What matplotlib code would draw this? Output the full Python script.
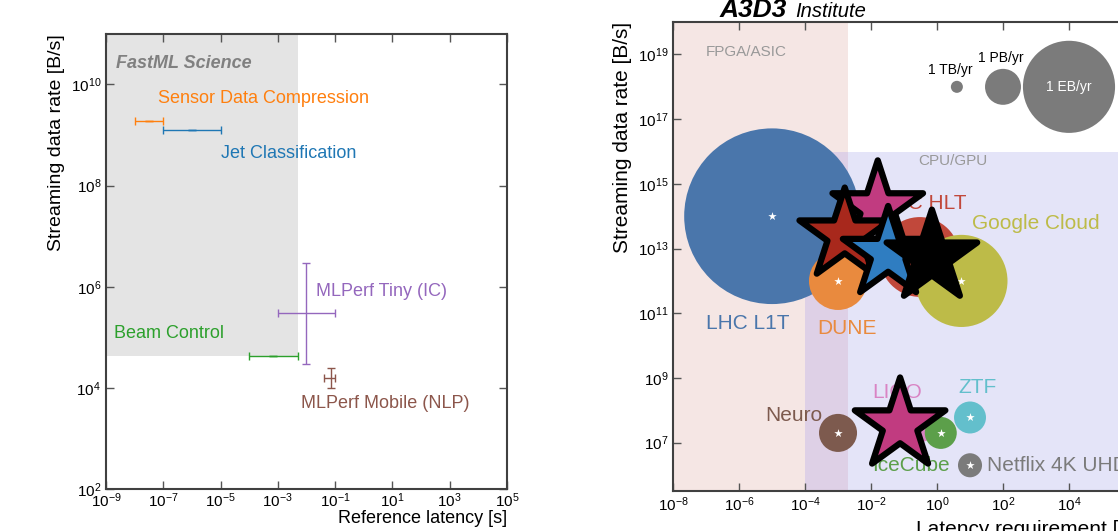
import matplotlib.pyplot as plt
import numpy as np

plt.rcParams['font.family'] = ['Liberation Sans', 'DejaVu Sans']
plt.rcParams['mathtext.fontset'] = 'custom'
plt.rcParams['mathtext.rm'] = 'Liberation Sans'
plt.rcParams['mathtext.it'] = 'Liberation Sans:italic'
plt.rcParams['mathtext.bf'] = 'Liberation Sans:bold'

# ---- left panel: FastML Science benchmarks ----
tasks = ['Sensor Data Compression', 'Jet Classification', 'Beam Control',
         'MLPerf Tiny (IC)', 'MLPerf Mobile (NLP)']
task_colors = ['#ff7f0e', '#1f77b4', '#2ca02c', '#9467bd', '#8c564b']
lat_center = [3.2e-8, 1e-6, 7e-4, 1e-2, 7e-2]
lat_lo = [1e-8, 1e-7, 1e-4, 1e-3, 4e-2]
lat_hi = [1e-7, 1e-5, 5e-3, 1e-1, 1e-1]
rate_center = [1.9e9, 1.26e9, 4.3e4, 3e5, 1.6e4]
rate_lo = [1.9e9, 1.26e9, 4.3e4, 3e4, 1e4]
rate_hi = [1.9e9, 1.26e9, 4.3e4, 3e6, 2.5e4]
# where each label sits (left edge, vertical centre)
task_label_x = [6.6e-8, 1e-5, 1.9e-9, 2.1e-2, 6.3e-3]
task_label_y = [5.2e9, 4.3e8, 1.2e5, 8e5, 5e3]

# fastml region
fastml_lat = [1e-9, 5e-3]
fastml_rate = [4.3e4, 1e11]

# ---- right panel: A3D3 Institute bubbles ----
experiments = ['LHC L1T', 'LHC HLT', 'Google Cloud', 'DUNE', 'Neuro',
               'LIGO', 'IceCube', 'ZTF', 'Netflix 4K UHD']
exp_latency = [1e-5, 0.3, 5.5, 1e-3, 1e-3, 0.3, 1.3, 10, 10]
exp_rate = [1e14, 5.5e12, 1e12, 1e12, 2e7, 3.5e7, 2e7, 6e7, 2e6]
exp_volume = [16000, 3300, 4400, 1750, 750, 600, 530, 530, 300]
exp_colors = ['#4a76ab', '#c1483b', '#bdbb48', '#e98a3e', '#7d5a4e',
              '#d984c4', '#5c9f4a', '#63bfcc', '#7b7b7b']
exp_label_x = [1e-7, 8, 11.5, 2.3e-4, 3.3e-4, 1.07e-2, 1.07e-2, 4.4, 33]
exp_label_y = [5e10, 2.5e14, 6e13, 3.5e10, 6.7e7, 3.5e8, 2e6, 4.9e8, 2e6]
exp_label_ha = ['left', 'right', 'left', 'left', 'right', 'left', 'left', 'left', 'left']

# fastml benchmarks overplotted as stars
star_latency = [1.6e-2, 1.6e-3, 3.3e-2, 0.7, 7.6e-2]
star_rate = [1.8e14, 2.6e13, 7e12, 5.4e12, 3.5e7]
star_colors = ['#c13b80', '#a8281c', '#2f7dc1', 'black', '#c13b80']

# size key
ref_volumes = ['1 TB/yr', '1 PB/yr', '1 EB/yr']
ref_latency = [4, 1e2, 1e4]
ref_rate = [1e18, 1e18, 1e18]
ref_size = [75, 670, 4400]

fpga_lat = [1e-8, 2e-3]
cpu_lat = [1e-4, 1e6]
cpu_rate_top = 1e16


fig = plt.figure(figsize=(11.18, 5.31), dpi=100)

# =================== left ===================
ax = fig.add_axes([0.0948, 0.0791, 0.3587, 0.857])
ax.set_xscale('log')
ax.set_yscale('log')
ax.set_xlim(1e-9, 1e5)
ax.set_ylim(1e2, 1e11)

ax.fill_between(fastml_lat, fastml_rate[0], fastml_rate[1], color='#e4e4e4', lw=0, zorder=0)

for i in range(len(tasks)):
    x, y = lat_center[i], rate_center[i]
    xerr = [[x - lat_lo[i]], [lat_hi[i] - x]]
    yerr = [[y - rate_lo[i]], [rate_hi[i] - y]]
    ax.errorbar([x], [y], xerr=xerr, yerr=yerr, fmt='none', ecolor=task_colors[i],
                elinewidth=1, capsize=3, capthick=1)
    ax.text(task_label_x[i], task_label_y[i], tasks[i], color=task_colors[i],
            fontsize=13, ha='left', va='center')

ax.text(0.025, 0.936, 'FastML Science', transform=ax.transAxes, fontsize=13,
        fontweight='bold', fontstyle='italic', color='#808080', va='center')

ax.set_xticks([10.0 ** k for k in range(-9, 6, 2)])
ax.set_yticks([10.0 ** k for k in range(2, 11, 2)])
ax.minorticks_off()
ax.tick_params(direction='in', length=6, width=1, top=True, right=True,
               labelsize=11, color='#555555')
ax.tick_params(axis='x', pad=2)
for s in ax.spines.values():
    s.set_linewidth(1.5)
    s.set_color('#404040')
ax.set_xlabel('Reference latency [s]', loc='right', fontsize=13, labelpad=0)
ax.set_ylabel('Streaming data rate [B/s]', loc='top', fontsize=14)

# =================== right ===================
ax2 = fig.add_axes([0.602, 0.0753, 0.4132, 0.883])
ax2.set_xscale('log')
ax2.set_yscale('log')
ax2.set_xlim(1e-8, 1e6)
ax2.set_ylim(3.2e5, 1e20)

ax2.axvspan(fpga_lat[0], fpga_lat[1], color='#f5e6e4', lw=0, zorder=0)
ax2.fill_between(cpu_lat, 3.2e5, cpu_rate_top, color='#e4e4f8', lw=0, zorder=0)
ax2.fill_between([cpu_lat[0], fpga_lat[1]], 3.2e5, cpu_rate_top, color='#ded0e6', lw=0, zorder=0)
ax2.text(1e-7, 1.2e19, 'FPGA/ASIC', color='#999999', fontsize=11, va='center')
ax2.text(3, 5e15, 'CPU/GPU', color='#999999', fontsize=11, va='center', ha='center')

# bubbles
ax2.scatter(exp_latency, exp_rate, s=exp_volume, c=exp_colors, lw=0, zorder=2)
ax2.scatter(exp_latency, exp_rate, s=40, marker='*', c='white', lw=0, zorder=3)
for i in range(len(experiments)):
    ax2.text(exp_label_x[i], exp_label_y[i], experiments[i], color=exp_colors[i],
             fontsize=15, ha=exp_label_ha[i], va='center', zorder=3)

# size key
ax2.scatter(ref_latency, ref_rate, s=ref_size, c='#7b7b7b', lw=0, zorder=2)
ax2.text(12, 3.2e18, ref_volumes[0], fontsize=10, ha='right', va='center')
ax2.text(17, 8e18, ref_volumes[1], fontsize=10, ha='left', va='center')
ax2.text(ref_latency[2], ref_rate[2], ref_volumes[2], fontsize=10, ha='center',
         va='center', color='white', zorder=3)

# stars on top
ax2.scatter(star_latency, star_rate, s=4700, marker='*', c=star_colors,
            edgecolors='black', linewidths=4.5, zorder=5)

ax2.set_xticks([10.0 ** k for k in range(-8, 7, 2)])
ax2.set_yticks([10.0 ** k for k in range(7, 20, 2)])
ax2.minorticks_off()
ax2.tick_params(direction='in', length=6, width=1, top=True, right=True,
                labelsize=11, color='#555555')
for s in ax2.spines.values():
    s.set_linewidth(1.5)
    s.set_color('#404040')
ax2.set_xlabel('Latency requirement [s]', loc='right', fontsize=15)
ax2.set_ylabel('Streaming data rate [B/s]', loc='top', fontsize=15)

fig.text(720 / 1118, 1 - 17 / 531, 'A3D3', fontsize=19, fontweight='bold',
         fontstyle='italic', va='baseline')
fig.text(795 / 1118, 1 - 17 / 531, 'Institute', fontsize=14.5,
         fontstyle='italic', va='baseline')

fig.savefig('out.png', dpi=100)
